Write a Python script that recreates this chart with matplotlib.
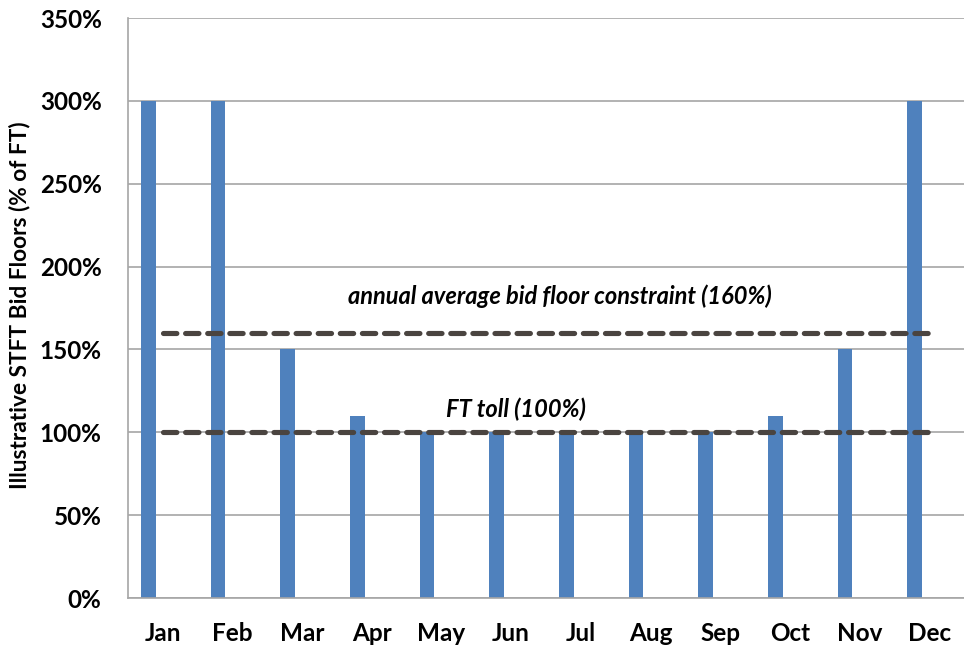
import matplotlib.pyplot as plt
import numpy as np

# data
months = ["Jan", "Feb", "Mar", "Apr", "May", "Jun", "Jul", "Aug", "Sep", "Oct", "Nov", "Dec"]
bid_floor = [300, 300, 150, 110, 100, 100, 100, 100, 100, 110, 150, 300]
avg_constraint = [160] * 12
ft_toll = [100] * 12
yticks = [0, 50, 100, 150, 200, 250, 300, 350]

plt.rcParams["font.family"] = ["Lato", "DejaVu Sans"]

fig = plt.figure(figsize=(9.64, 6.46), dpi=100)
ax = fig.add_axes([128 / 964, 48 / 646, 836 / 964, 580 / 646])

x = np.arange(len(months))
ax.bar(x - 0.21, bid_floor, width=0.21, color="#4F81BD", zorder=2)

dash = dict(color="#4A4440", lw=3.7, linestyle=(0, (2.6, 1.7)),
            dash_capstyle="round", zorder=3)
ax.plot(x, avg_constraint, **dash)
ax.plot(x, ft_toll, **dash)

ax.text(5.7, 182, "annual average bid floor constraint (160%)", ha="center", va="center",
        fontsize=17, fontweight="bold", fontstyle="italic")
ax.text(5.07, 114, "FT toll (100%)", ha="center", va="center",
        fontsize=17, fontweight="bold", fontstyle="italic")

ax.set_xlim(-0.5, 11.5)
ax.set_ylim(0, 350)
ax.set_yticks(yticks)
ax.set_yticklabels([f"{v}%" for v in yticks])
ax.set_xticks(x)
ax.set_xticklabels(months)
ax.tick_params(axis="both", length=0, labelsize=17.5)
ax.tick_params(axis="y", pad=19)
ax.tick_params(axis="x", pad=17)
for lab in ax.get_xticklabels() + ax.get_yticklabels():
    lab.set_fontweight("bold")

ax.grid(axis="y", color="#A6A6A6", lw=1.2, zorder=0)
for s in ["top", "right"]:
    ax.spines[s].set_visible(False)
ax.spines["left"].set_color("#A6A6A6")
ax.spines["bottom"].set_color("#A6A6A6")
ax.spines["left"].set_linewidth(1.2)
ax.spines["bottom"].set_linewidth(1.2)

ax.set_ylabel("Illustrative STFT Bid Floors (% of FT)", fontsize=16.3, fontweight="bold")
ax.yaxis.label.set_va("center")
ax.yaxis.set_label_coords(-109 / 836, 0.505)

fig.savefig("out.png", dpi=100)
